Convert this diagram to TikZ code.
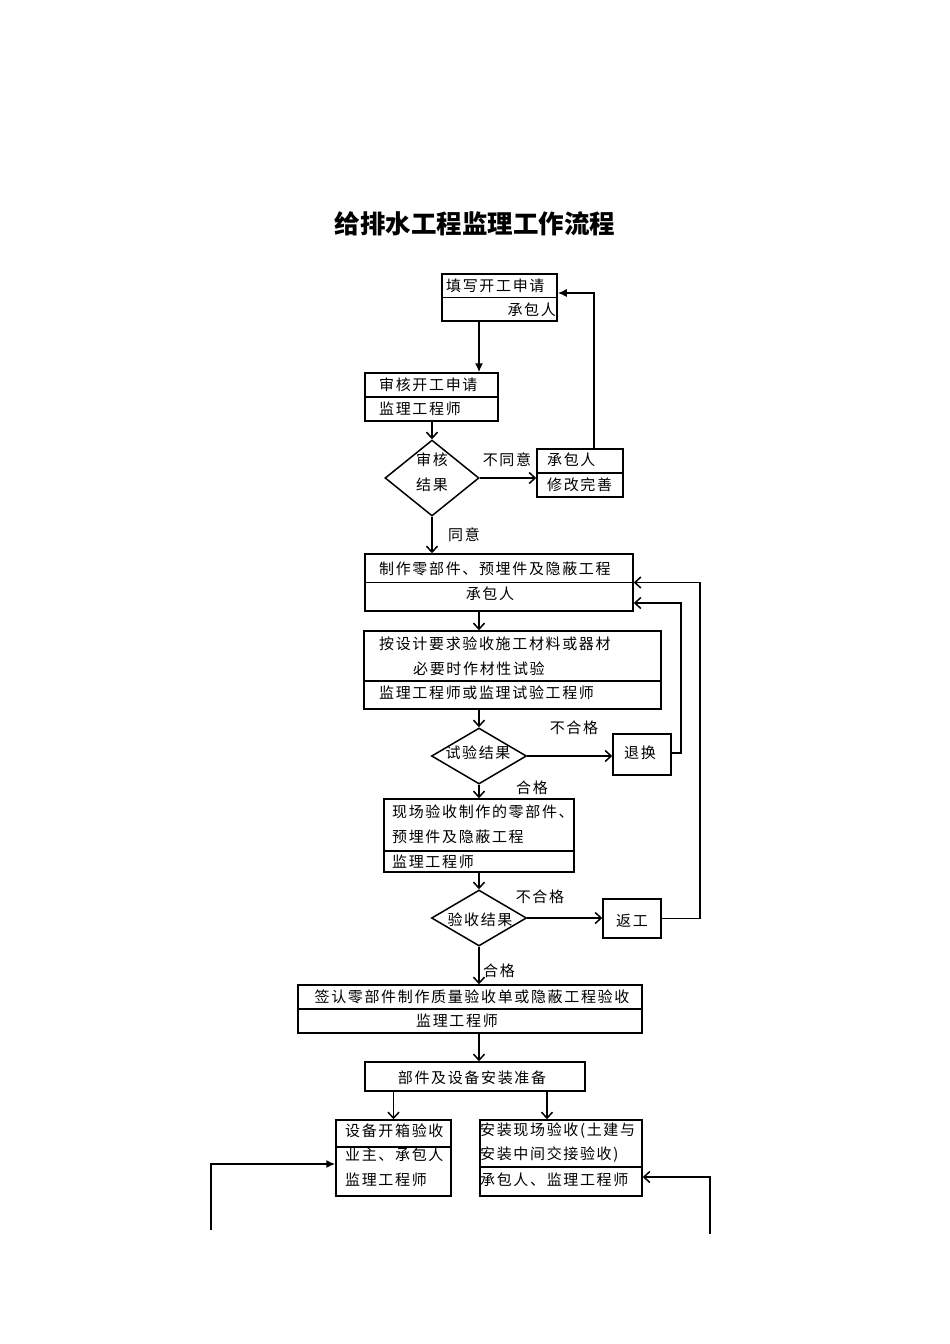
\documentclass[tikz,border=0pt]{standalone}
\usepackage{fontspec}
\newfontfamily\cjk[LetterSpace=11]{Noto Sans CJK SC}
\newfontfamily\cjkt{Noto Sans CJK SC}
\usetikzlibrary{shapes.geometric,arrows.meta}
\tikzset{
  box/.style={draw, line width=1.5pt, rectangle, inner sep=0pt},
  dia/.style={draw, line width=1.5pt, diamond, inner sep=0pt},
  lbl/.style={font=\cjk\fontsize{15}{15}\selectfont, inner sep=0pt},
  conn/.style={line width=1.5pt},
  opn/.style={conn, -{Straight Barb[length=6pt,width=11pt,line width=1.5pt]}},
  fil/.style={conn, -{Latex[length=9pt,width=8pt]}},
  divl/.style={line width=1.4pt}
}
\begin{document}
\begin{tikzpicture}[x=1pt,y=-1pt]
\fill[white] (0,0) rectangle (950,1344);
\useasboundingbox (0,0) rectangle (950,1344);

% title
\node[inner sep=0pt, font=\cjkt\bfseries\fontsize{25.5}{25.5}\selectfont] (title) at (475,224) {给排水工程监理工作流程};

% boxes
\node[box, minimum width=115pt, minimum height=47pt] (b1) at (499.5,297.5) {};
\node[box, minimum width=133pt, minimum height=48pt] (b2) at (431.5,397) {};
\node[dia, minimum width=94pt, minimum height=76pt] (d1) at (432,478) {};
\node[box, minimum width=86pt, minimum height=48pt] (b3) at (580,473) {};
\node[box, minimum width=268pt, minimum height=57pt] (b4) at (499,582.5) {};
\node[box, minimum width=297pt, minimum height=78pt] (b5) at (512.5,670) {};
\node[dia, minimum width=95pt, minimum height=56pt] (d2) at (479,756) {};
\node[box, minimum width=58pt, minimum height=41pt] (th) at (642,754.5) {};
\node[box, minimum width=190pt, minimum height=73pt] (b6) at (479,835.5) {};
\node[dia, minimum width=95pt, minimum height=56pt] (d3) at (479,918) {};
\node[box, minimum width=58pt, minimum height=39pt] (fg) at (632,918.5) {};
\node[box, minimum width=344pt, minimum height=48pt] (b7) at (470,1009) {};
\node[box, minimum width=220pt, minimum height=29pt] (b8) at (475,1076.5) {};
\node[box, minimum width=115pt, minimum height=76pt] (b9) at (393.5,1158) {};
\node[box, minimum width=162pt, minimum height=76pt] (b10) at (561,1158) {};

% dividers
\draw[divl] (b1.west) -- (b1.east);
\draw[divl] (b2.west) -- (b2.east);
\draw[divl] (b3.west) -- (b3.east);
\draw[divl] (b4.west) -- (b4.east);
\draw[divl] (b5.west |- 0,681) -- (b5.east |- 0,681);
\draw[divl] (b6.west |- 0,851) -- (b6.east |- 0,851);
\draw[divl] (b7.west) -- (b7.east);
\draw[divl] (b9.west |- 0,1147) -- (b9.east |- 0,1147);
\draw[divl] (b10.west |- 0,1167) -- (b10.east |- 0,1167);

% texts
\node[lbl, anchor=west] (t1a) at (446,286) {填写开工申请};
\node[lbl, anchor=east] (t1b) at (556,310) {承包人};
\node[lbl, anchor=west] (t2a) at (379,385) {审核开工申请};
\node[lbl, anchor=west] (t2b) at (379,409) {监理工程师};
\node[lbl] (td1a) at (432,460) {审核};
\node[lbl] (td1b) at (432,485) {结果};
\node[lbl] (tno1) at (507,460) {不同意};
\node[lbl, anchor=west] (t3a) at (547,460) {承包人};
\node[lbl, anchor=west] (t3b) at (547,485) {修改完善};
\node[lbl] (tyes) at (464,535) {同意};
\node[lbl, anchor=west] (t4a) at (379,569) {制作零部件、预埋件及隐蔽工程};
\node[lbl] (t4b) at (490,594) {承包人};
\node[lbl, anchor=west] (t5a) at (379,644) {按设计要求验收施工材料或器材};
\node[lbl, anchor=west] (t5b) at (413,669) {必要时作材性试验};
\node[lbl, anchor=west] (t5c) at (379,693) {监理工程师或监理试验工程师};
\node[lbl] (tbh1) at (574,728) {不合格};
\node[lbl] (td2) at (478,753) {试验结果};
\node[lbl] (tth) at (640,753) {退换};
\node[lbl] (thg1) at (532,788) {合格};
\node[lbl, anchor=west] (t6a) at (392,812) {现场验收制作的零部件、};
\node[lbl, anchor=west] (t6b) at (392,837) {预埋件及隐蔽工程};
\node[lbl, anchor=west] (t6c) at (392,862) {监理工程师};
\node[lbl] (tbh2) at (540,897) {不合格};
\node[lbl] (td3) at (480,920) {验收结果};
\node[lbl] (tfg) at (632,921) {返工};
\node[lbl] (thg2) at (499,971) {合格};
\node[lbl] (t7a) at (472,997) {签认零部件制作质量验收单或隐蔽工程验收};
\node[lbl] (t7b) at (457,1021) {监理工程师};
\node[lbl] (t8) at (472,1078) {部件及设备安装准备};
\node[lbl, anchor=west] (t9a) at (345,1131) {设备开箱验收};
\node[lbl, anchor=west] (t9b) at (345,1155) {业主、承包人};
\node[lbl, anchor=west] (t9c) at (345,1180) {监理工程师};
\node[lbl, anchor=west] (t10a) at (480,1131) {安装现场验收(土建与};
\node[lbl, anchor=west] (t10b) at (480,1155) {安装中间交接验收)};
\node[lbl, anchor=west] (t10c) at (480,1180) {承包人、监理工程师};

% connectors
\draw[fil] ([xshift=-20.5pt]b1.south) -- ([xshift=-20.5pt]b1.south |- b2.north);
\draw[opn] (d1.north |- b2.south) -- (d1.north);
\draw[opn] (d1.east) -- (d1.east -| b3.west);
\draw[fil] ([xshift=14pt]b3.north) |- ([yshift=4.5pt]b1.east);
\draw[opn] (d1.south) -- (d1.south |- b4.north);
\draw[opn] ([xshift=-20pt]b4.south) -- ([xshift=-20pt]b4.south |- b5.north);
\draw[opn] (d2.north |- b5.south) -- (d2.north);
\draw[opn] (d2.east) -- (d2.east -| th.west);
\draw[opn] ([yshift=1.5pt]th.east) -- ++(9pt,0) |- ([yshift=-20.5pt]b4.east);
\draw[opn] (d2.south) -- (d2.south |- b6.north);
\draw[opn] (b6.south) -- (d3.north);
\draw[opn] (d3.east) -- (d3.east -| fg.west);
\draw[opn] (fg.east) -- ++(38pt,0) |- (b4.east);
\draw[opn] (d3.south) -- (d3.south |- b7.north);
\draw[opn] ([xshift=9pt]b7.south) -- ([xshift=9pt]b7.south |- b8.north);
\draw[opn] (b9.north |- b8.south) -- (b9.north);
\draw[opn] ([xshift=-14pt]b10.north |- b8.south) -- ([xshift=-14pt]b10.north);
\coordinate (L) at (211,1230);
\coordinate (R) at (710,1234);
\draw[fil] (L) |- ([yshift=-6pt]b9.west);
\draw[opn] (R) |- ([yshift=-19pt]b10.east);
\end{tikzpicture}
\end{document}
